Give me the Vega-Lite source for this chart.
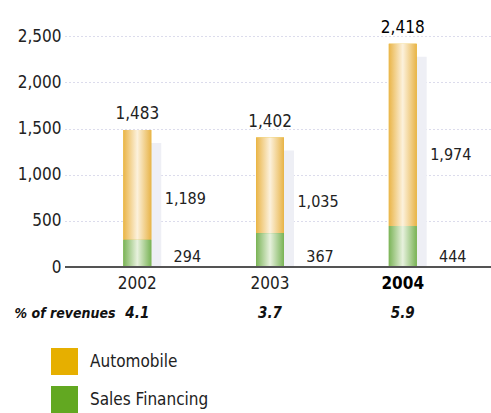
{
  "$schema": "https://vega.github.io/schema/vega-lite/v6.json",
  "width": 426,
  "height": 240,
  "autosize": {"type": "none"},
  "padding": {"left": 65, "top": 27, "right": 0, "bottom": 146},
  "background": "white",
  "config": {
    "font": "DejaVu Sans Condensed, Liberation Sans, sans-serif",
    "view": {"stroke": null},
    "axis": {"labelFont": "DejaVu Sans Condensed, Liberation Sans, sans-serif", "labelFontSize": 17, "labelColor": "#222222"}
  },
  "datasets": {
    "main": [
      {"year": "2002", "series": "Automobile", "value": 1189, "pct": "4.1"},
      {"year": "2002", "series": "Sales Financing", "value": 294, "pct": "4.1"},
      {"year": "2003", "series": "Automobile", "value": 1035, "pct": "3.7"},
      {"year": "2003", "series": "Sales Financing", "value": 367, "pct": "3.7"},
      {"year": "2004", "series": "Automobile", "value": 1974, "pct": "5.9"},
      {"year": "2004", "series": "Sales Financing", "value": 444, "pct": "5.9"}
    ]
  },
  "data": {"name": "main"},
  "encoding": {
    "x": {
      "field": "year", "type": "nominal",
      "scale": {"paddingInner": 0.79, "paddingOuter": 0.5, "align": 0.44},
      "axis": {
        "title": "% of revenues",
        "titleFont": "DejaVu Sans Condensed, Liberation Sans, sans-serif",
        "titleFontSize": 14,
        "titleFontWeight": "bold",
        "titleFontStyle": "italic",
        "titleColor": "#111111",
        "titleAnchor": "start",
        "titleAlign": "left",
        "titleX": -51,
        "titleY": 46,
        "titleBaseline": "middle",
        "labelAngle": 0,
        "labelPadding": 8,
        "labelFontWeight": {"condition": {"test": "datum.value == '2004'", "value": "bold"}, "value": "normal"},
        "labelColor": {"condition": {"test": "datum.value == '2004'", "value": "#000000"}, "value": "#222222"},
        "ticks": false,
        "domain": false,
        "grid": false
      }
    }
  },
  "layer": [
    {
      "mark": {"type": "bar", "color": "#EEEFF5", "xOffset": 10, "yOffset": 13},
      "encoding": {
        "y": {"aggregate": "sum", "field": "value", "type": "quantitative",
              "scale": {"domain": [0, 2500]},
              "axis": {"title": null, "values": [0, 500, 1000, 1500, 2000, 2500], "format": ",d", "ticks": false, "domain": false,
                       "labelPadding": 4, "gridColor": "#B8B8D8", "gridDash": [1, 3], "gridWidth": 1}}
      }
    },
    {
      "mark": {"type": "bar"},
      "encoding": {
        "y": {"field": "value", "type": "quantitative", "stack": "zero"},
        "order": {"field": "series", "sort": "descending"},
        "color": {
          "field": "series", "type": "nominal",
          "scale": {"domain": ["Automobile", "Sales Financing"], "range": ["#E6AF00", "#62A821"]},
          "legend": {
            "orient": "none", "legendX": -14, "legendY": 321, "title": null,
            "symbolType": "square", "symbolSize": 729, "symbolStrokeWidth": 0, "symbolOpacity": 1,
            "labelFont": "DejaVu Sans Condensed, Liberation Sans, sans-serif", "labelFontSize": 17, "labelColor": "#222222",
            "labelOffset": 12, "rowPadding": 11
          }
        }
      }
    },
    {
      "mark": {"type": "bar"},
      "encoding": {
        "y": {"field": "value", "type": "quantitative", "stack": "zero"},
        "order": {"field": "series", "sort": "descending"},
        "fill": {
          "condition": {"test": "datum.series == 'Automobile'", "value": {"gradient": "linear", "x1": 0, "x2": 1, "y1": 0, "y2": 0,
            "stops": [{"offset": 0, "color": "#EAB548"}, {"offset": 0.5, "color": "#FCF1DC"}, {"offset": 1, "color": "#E8B448"}]}},
          "value": {"gradient": "linear", "x1": 0, "x2": 1, "y1": 0, "y2": 0,
            "stops": [{"offset": 0, "color": "#7BB458"}, {"offset": 0.5, "color": "#E7F1DD"}, {"offset": 1, "color": "#79B356"}]}
        }
      }
    },
    {
      "mark": {"type": "rule", "color": "#555555", "strokeWidth": 1.5},
      "encoding": {"y": {"datum": 0}, "x": {"value": 0}, "x2": {"value": 426}}
    },
    {
      "mark": {"type": "text", "baseline": "bottom", "dy": -7, "fontSize": 17},
      "encoding": {
        "y": {"aggregate": "sum", "field": "value", "type": "quantitative"},
        "text": {"aggregate": "sum", "field": "value", "type": "quantitative", "format": ",d"},
        "fontWeight": {"condition": {"test": "datum.year == '2004'", "value": "bold"}, "value": "normal"},
        "color": {"condition": {"test": "datum.year == '2004'", "value": "#000000"}, "value": "#222222"}
      }
    },
    {
      "mark": {"type": "text", "baseline": "middle", "dx": 48, "fontSize": 16, "color": "#222222"},
      "encoding": {
        "y": {"aggregate": "mean", "field": "value", "type": "quantitative"},
        "text": {"aggregate": "max", "field": "value", "type": "quantitative", "format": ",d"}
      }
    },
    {
      "transform": [{"filter": "datum.series == 'Sales Financing'"}],
      "mark": {"type": "text", "baseline": "middle", "dx": 50, "dy": -10, "fontSize": 16, "color": "#222222"},
      "encoding": {
        "y": {"datum": 0},
        "text": {"field": "value", "type": "quantitative", "format": ",d"}
      }
    },
    {
      "transform": [{"filter": "datum.series == 'Sales Financing'"}],
      "mark": {"type": "text", "baseline": "middle", "dy": 46, "fontSize": 15, "fontWeight": "bold", "fontStyle": "italic", "color": "#111111"},
      "encoding": {
        "y": {"datum": 0},
        "text": {"field": "pct", "type": "nominal"}
      }
    }
  ]
}
